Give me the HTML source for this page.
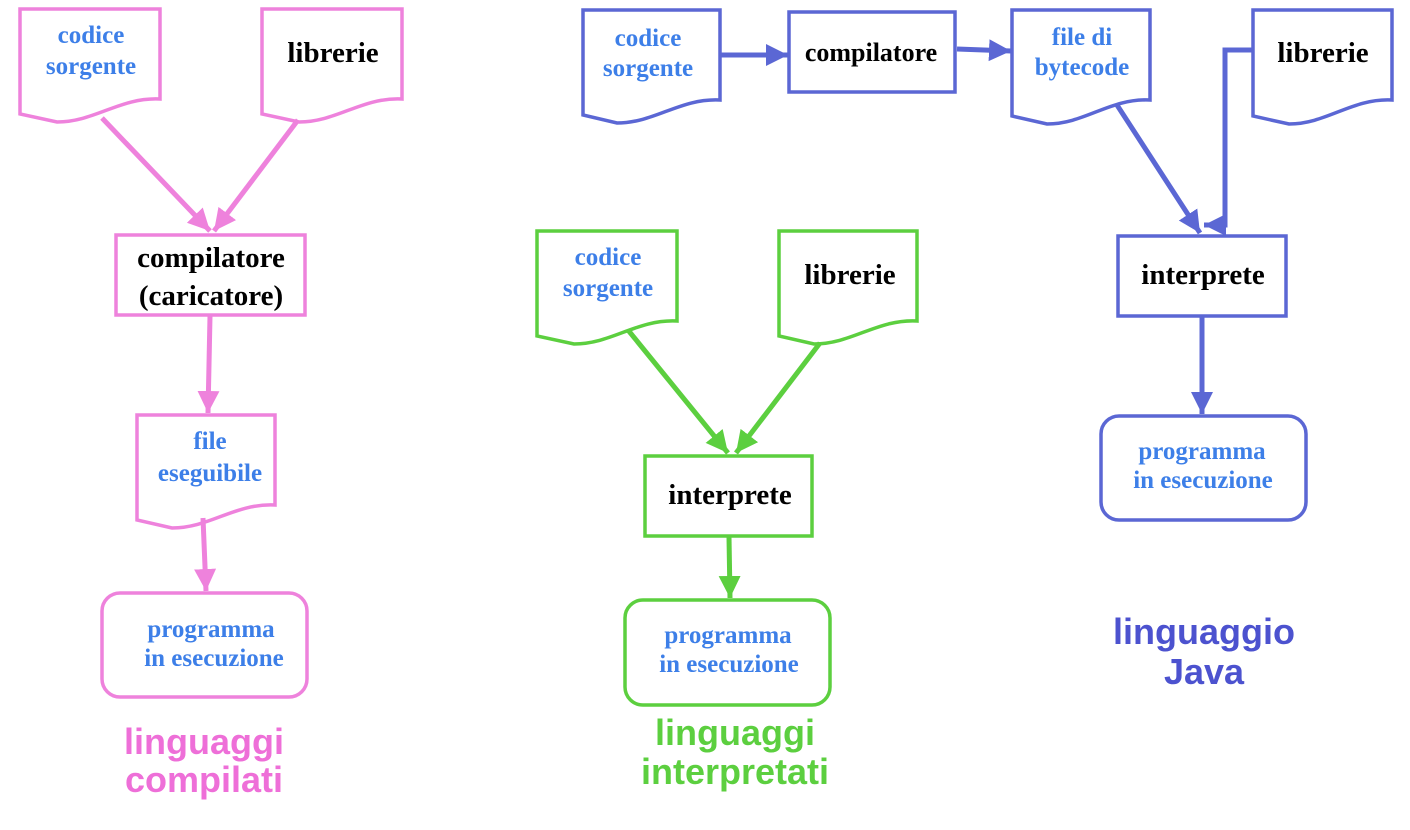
<!DOCTYPE html>
<html><head><meta charset="utf-8"><style>
html,body{margin:0;padding:0;background:#fff}
svg{display:block}
.t{font-family:"Liberation Serif",serif;font-weight:bold;text-anchor:middle}
.b{fill:#3d7fe8;font-size:25px}
.k{fill:#000;font-size:29px}
.h{font-family:"Liberation Sans",sans-serif;font-weight:bold;font-size:36px;text-anchor:middle}
</style></head><body>
<svg width="1410" height="830" viewBox="0 0 1410 830" xmlns="http://www.w3.org/2000/svg">
<defs>
<marker id="ap" markerUnits="userSpaceOnUse" markerWidth="26" markerHeight="26" refX="22" refY="11" orient="auto"><path d="M0,0 L22,11 L0,22 z" fill="#ee82dc"/></marker>
<marker id="ag" markerUnits="userSpaceOnUse" markerWidth="26" markerHeight="26" refX="22" refY="11" orient="auto"><path d="M0,0 L22,11 L0,22 z" fill="#5ccf3f"/></marker>
<marker id="ab" markerUnits="userSpaceOnUse" markerWidth="26" markerHeight="26" refX="22" refY="11" orient="auto"><path d="M0,0 L22,11 L0,22 z" fill="#5b67d4"/></marker>
</defs>
<g fill="#fff" stroke-width="3.5">
<g stroke="#ee82dc">
<path d="M20,9 H160 V99 C120,97 95,122 57,122 L20,114 Z"/>
<path d="M262,9 H402 V99 C362,97 337,122 299,122 L262,114 Z"/>
<rect x="116" y="235" width="189" height="80"/>
<path d="M137,415 H275 V505 C235,503 210,528 172,528 L137,520 Z"/>
<rect x="102" y="593" width="205" height="104" rx="18"/>
</g>
<g stroke="#5ccf3f">
<path d="M537,231 H677 V321 C637,319 612,344 574,344 L537,336 Z"/>
<path d="M779,231 H917 V321 C877,319 852,344 814,344 L779,336 Z"/>
<rect x="645" y="456" width="167" height="80"/>
<rect x="625" y="600" width="205" height="105" rx="18"/>
</g>
<g stroke="#5b67d4">
<path d="M583,10 H720 V100 C680,98 655,123 617,123 L583,115 Z"/>
<rect x="789" y="12" width="166" height="80"/>
<path d="M1012,10 H1150 V100 C1110,98 1085,124 1047,124 L1012,116 Z"/>
<path d="M1253,10 H1392 V100 C1352,98 1327,124 1289,124 L1253,116 Z"/>
<rect x="1118" y="236" width="168" height="80"/>
<rect x="1101" y="416" width="205" height="104" rx="18"/>
</g>
</g>
<g fill="none" stroke-width="5">
<g stroke="#ee82dc">
<line x1="102" y1="118" x2="210" y2="231" marker-end="url(#ap)"/>
<line x1="298" y1="120" x2="214" y2="231" marker-end="url(#ap)"/>
<line x1="210" y1="316" x2="208" y2="413" marker-end="url(#ap)"/>
<line x1="203" y1="518" x2="206" y2="591" marker-end="url(#ap)"/>
</g>
<g stroke="#5ccf3f">
<line x1="628" y1="330" x2="728" y2="453" marker-end="url(#ag)"/>
<line x1="820" y1="343" x2="736" y2="453" marker-end="url(#ag)"/>
<line x1="729" y1="537" x2="730" y2="598" marker-end="url(#ag)"/>
</g>
<g stroke="#5b67d4">
<line x1="720" y1="55" x2="788" y2="55" marker-end="url(#ab)"/>
<line x1="957" y1="49" x2="1011" y2="51" marker-end="url(#ab)"/>
<line x1="1117" y1="105" x2="1200" y2="233" marker-end="url(#ab)"/>
<polyline points="1252,50 1225,50 1225,225 1204,225" marker-end="url(#ab)"/>
<line x1="1202" y1="317" x2="1202" y2="414" marker-end="url(#ab)"/>
</g>
</g>
<text class="t b" x="91" y="43">codice</text>
<text class="t b" x="91" y="74">sorgente</text>
<text class="t k" x="333" y="62">librerie</text>
<text class="t k" x="211" y="267">compilatore</text>
<text class="t k" x="211" y="305">(caricatore)</text>
<text class="t b" x="210" y="449">file</text>
<text class="t b" x="210" y="481">eseguibile</text>
<text class="t b" x="211" y="637">programma</text>
<text class="t b" x="214" y="666">in esecuzione</text>
<text class="h" x="204" y="754" fill="#ee6fd8">linguaggi</text>
<text class="h" x="204" y="792" fill="#ee6fd8">compilati</text>

<text class="t b" x="608" y="265">codice</text>
<text class="t b" x="608" y="296">sorgente</text>
<text class="t k" x="850" y="284">librerie</text>
<text class="t k" x="730" y="504">interprete</text>
<text class="t b" x="728" y="643">programma</text>
<text class="t b" x="729" y="672">in esecuzione</text>
<text class="h" x="735" y="745" fill="#5ccf3f">linguaggi</text>
<text class="h" x="735" y="784" fill="#5ccf3f">interpretati</text>

<text class="t b" x="648" y="46">codice</text>
<text class="t b" x="648" y="76">sorgente</text>
<text class="t k" x="871" y="61" style="font-size:26px">compilatore</text>
<text class="t b" x="1082" y="45">file di</text>
<text class="t b" x="1082" y="75">bytecode</text>
<text class="t k" x="1323" y="62">librerie</text>
<text class="t k" x="1203" y="284">interprete</text>
<text class="t b" x="1202" y="459">programma</text>
<text class="t b" x="1203" y="488">in esecuzione</text>
<text class="h" x="1204" y="644" fill="#4c52cf">linguaggio</text>
<text class="h" x="1204" y="684" fill="#4c52cf">Java</text>
</svg>
</body></html>
